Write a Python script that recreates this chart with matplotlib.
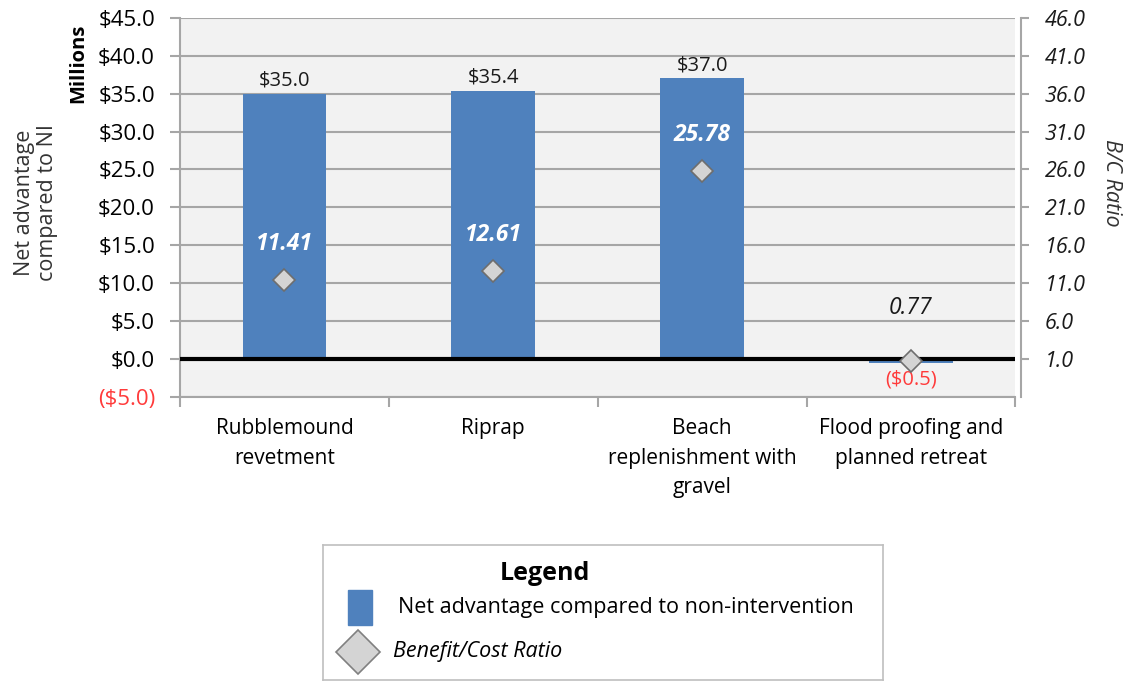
import matplotlib
matplotlib.use("Agg")
import matplotlib.pyplot as plt
from matplotlib.patches import Rectangle
from matplotlib.lines import Line2D

plt.rcParams['font.family'] = ['Open Sans', 'DejaVu Sans']

categories = ["Rubblemound\nrevetment", "Riprap", "Beach\nreplenishment with\ngravel",
              "Flood proofing and\nplanned retreat"]
net_advantage = [35.0, 35.4, 37.0, -0.5]   # $ millions
bc_ratio = [11.41, 12.61, 25.78, 0.77]
left_ticks = [-5, 0, 5, 10, 15, 20, 25, 30, 35, 40, 45]
right_ticks = [1, 6, 11, 16, 21, 26, 31, 36, 41, 46]

bar_color = "#4F81BD"
grid_color = "#A6A6A6"
fs = 15

fig = plt.figure(figsize=(11.32, 6.81), dpi=100)
ax = fig.add_axes([0.159, 0.417, 0.738, 0.557])
ax.set_facecolor("#F2F2F2")

x = list(range(len(categories)))
ax.bar(x, net_advantage, width=0.4, color=bar_color, zorder=2)
ax.axhline(0, color="black", lw=3, zorder=3)

ax.set_xlim(-0.5, 3.5)
ax.set_ylim(-5, 45)
ax.set_yticks(left_ticks)
ax.set_yticklabels([f"${v:.1f}" if v >= 0 else f"(${-v:.1f})" for v in left_ticks])
ax.tick_params(axis="y", labelsize=16, length=7, color=grid_color, width=1.5, pad=11)
ax.grid(axis="y", color=grid_color, lw=1.5, zorder=1)
ax.set_axisbelow(True)

ax.set_xticks(x)
ax.set_xticklabels(categories, linespacing=1.55)
ax.set_xticks([-0.5, 0.5, 1.5, 2.5, 3.5], minor=True)
ax.tick_params(axis="x", which="major", length=0, pad=15, labelsize=fs)
ax.tick_params(axis="x", which="minor", length=7, color=grid_color, width=1.5)
for side in ["top", "right"]:
    ax.spines[side].set_visible(False)
for side in ["left", "bottom"]:
    ax.spines[side].set_color(grid_color)
    ax.spines[side].set_linewidth(1.5)

for xi, v in zip(x, net_advantage):
    if v >= 0:
        ax.annotate(f"${v:.1f}", (xi, v), xytext=(0, 2), textcoords="offset points",
                    ha="center", va="bottom", fontsize=14.5, color="#1A1A1A")
    else:
        ax.annotate(f"(${-v:.1f})", (xi, v), xytext=(0, -5), textcoords="offset points",
                    ha="center", va="top", fontsize=14.5, color="#FF3B3B")

fig.text(78 / 1132, 1 - 63 / 681, "Millions", rotation=90,
         ha="center", va="center", fontsize=14.5, fontweight="bold")
fig.text(36 / 1132, 1 - 203 / 681, "Net advantage\ncompared to NI", rotation=90,
         ha="center", va="center", fontsize=15.5, color="#333333", linespacing=1.15)

ax2 = ax.twinx()
ax2.set_ylim(-4, 46)
ax2.set_yticks(right_ticks)
ax2.set_yticklabels([f"{v:.1f}" for v in right_ticks])
ax2.tick_params(axis="y", length=6, color=grid_color, width=1.5, pad=11,
                labelsize=15.5, labelcolor="#1A1A1A")
for side in ["top", "left", "bottom"]:
    ax2.spines[side].set_visible(False)
ax2.spines["right"].set_color(grid_color)
ax2.spines["right"].set_linewidth(1.5)
ax2.spines["right"].set_position(("outward", 4))
fig.text(1111 / 1132, 1 - 183 / 681, "B/C Ratio", rotation=-90, ha="center",
         va="center", fontsize=15.5, style="italic", color="#333333")

ax2.plot(x, bc_ratio, linestyle="none", marker="D", markersize=11,
         markerfacecolor="#D4D4D4", markeredgecolor="#6E6E6E", markeredgewidth=1.2,
         zorder=5)
label_offsets = [26, 26, 26, 38]
for xi, r, off in zip(x, bc_ratio, label_offsets):
    on_bar = net_advantage[xi] > r
    ax2.annotate(f"{r:.2f}", (xi, r), xytext=(0, off), textcoords="offset points",
                 ha="center", va="center", fontsize=16.5, style="italic",
                 fontweight="bold" if on_bar else "normal",
                 color="white" if on_bar else "#1A1A1A")

# legend box
lax = fig.add_axes([323 / 1132, 1 - 680 / 681, 560 / 1132, 135 / 681])
lax.set_xlim(0, 560)
lax.set_ylim(135, 0)
lax.set_xticks([])
lax.set_yticks([])
for s in lax.spines.values():
    s.set_color("#BFBFBF")
    s.set_linewidth(1.2)
lax.text(222, 28, "Legend", ha="center", va="center", fontsize=18, fontweight="bold")
lax.add_patch(Rectangle((25, 45), 24, 35, color=bar_color))
lax.text(75, 63, "Net advantage compared to non-intervention", ha="left", va="center",
         fontsize=15.5)
lax.add_line(Line2D([35], [107], marker="D", markersize=22, markerfacecolor="#D4D4D4",
                    markeredgecolor="#808080", markeredgewidth=1.2))
lax.text(70, 107, "Benefit/Cost Ratio", ha="left", va="center", fontsize=15.5,
         style="italic")

# tick label styling after the ticks exist
fig.canvas.draw()
for t, v in zip(ax.yaxis.get_major_ticks(), left_ticks):
    if v < 0:
        t.label1.set_color("#FF3B3B")
for t in ax2.yaxis.get_major_ticks():
    t.label2.set_fontstyle("italic")

fig.savefig("out.png", dpi=100)
